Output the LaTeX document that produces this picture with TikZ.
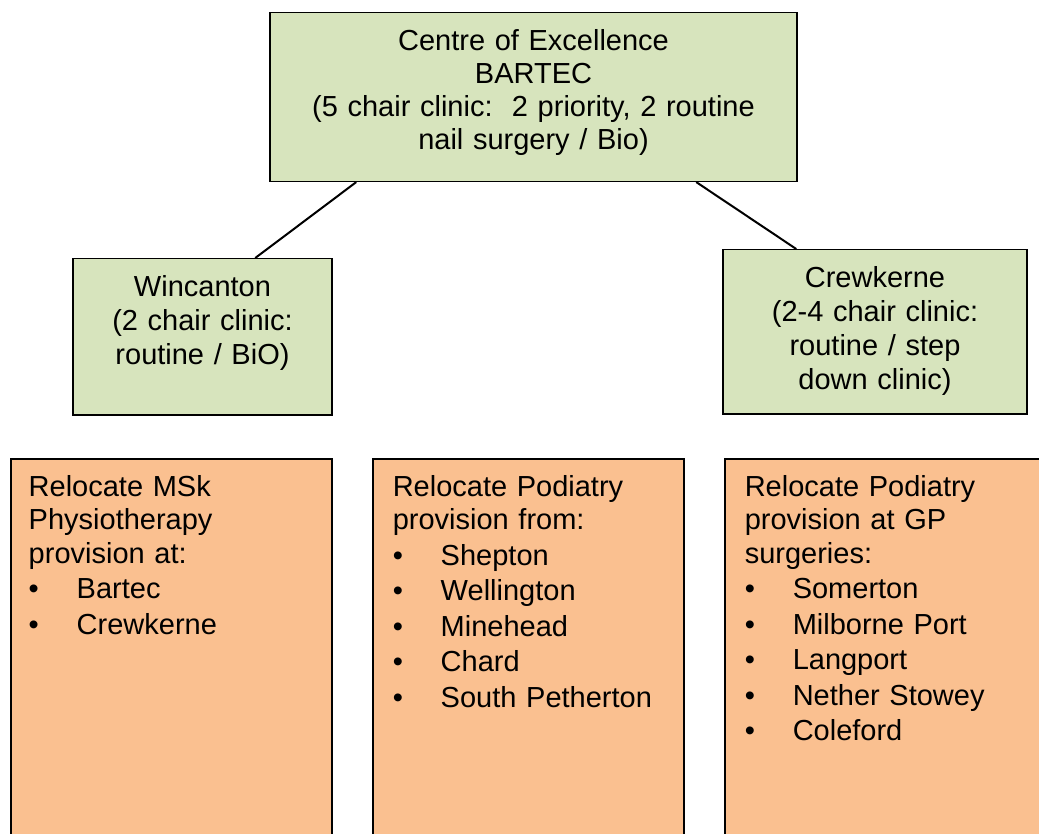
\documentclass[tikz,border=0pt]{standalone}
\usepackage{fontspec}
\setmainfont{Liberation Sans}
\definecolor{boxgreen}{HTML}{D7E4BD}
\definecolor{boxorange}{HTML}{FAC090}
\newcommand{\listitem}[1]{\makebox[24pt][l]{\textbullet}#1}

\begin{document}
\begin{tikzpicture}[x=0.5pt, y=-0.5pt,
    greenbox/.style={draw, fill=boxgreen, line width=0.75pt, inner xsep=0pt, inner ysep=0pt,
        align=center, text height=19pt, font=\fontsize{14.5pt}{17pt}\selectfont},
    orangebox/.style={draw, fill=boxorange, line width=0.75pt, inner xsep=10pt, inner ysep=0pt,
        align=left, text height=18.7pt, text depth=190pt, font=\fontsize{14.5pt}{16.75pt}\selectfont},
    link/.style={line width=1pt}]
    \useasboundingbox (0,0) rectangle (1039,834);
    \clip (0,0) rectangle (1039,834);

    % centre of excellence
    \node[greenbox, anchor=north, text width=263.5pt, text depth=65.3pt,
        font=\fontsize{14.5pt}{16.5pt}\selectfont] (bartec) at (533.5,12)
        {Centre of Excellence\\BARTEC\\(5 chair clinic:\ \ 2 priority, 2 routine\\nail surgery / Bio)};

    % satellite clinics
    \node[greenbox, anchor=north, text width=129.5pt, text depth=59pt] (wincanton) at (202.5,258)
        {Wincanton\\(2 chair clinic:\\routine / BiO)};
    \node[greenbox, anchor=north, text width=152pt, text depth=63pt] (crewkerne) at (875,249)
        {Crewkerne\\(2-4 chair clinic:\\routine / step\\down clinic)};

    % links
    \draw[link] ([xshift=43.5pt]bartec.south west) -- ([xshift=91.5pt]wincanton.north west);
    \draw[link] ([xshift=213.5pt]bartec.south west) -- ([xshift=37pt]crewkerne.north west);

    % relocations
    \node[orangebox, anchor=north west, inner xsep=9pt, text width=142.5pt] (physio) at (10,458)
        {Relocate MSk\\Physiotherapy\\provision at:\\[1pt]\listitem{Bartec}\\[1pt]\listitem{Crewkerne}};
    \node[orangebox, anchor=north west, text width=135.5pt] (podiatry) at (372,458)
        {Relocate Podiatry\\provision from:\\[1pt]\listitem{Shepton}\\[1pt]\listitem{Wellington}\\[1pt]\listitem{Minehead}\\[1pt]\listitem{Chard}\\[1pt]\listitem{South Petherton}};
    \node[orangebox, anchor=north west, text width=160pt] (gpsurgeries) at (724,458)
        {Relocate Podiatry\\provision at GP\\surgeries:\\[1pt]\listitem{Somerton}\\[1pt]\listitem{Milborne Port}\\[1pt]\listitem{Langport}\\[1pt]\listitem{Nether Stowey}\\[1pt]\listitem{Coleford}};
\end{tikzpicture}
\end{document}
